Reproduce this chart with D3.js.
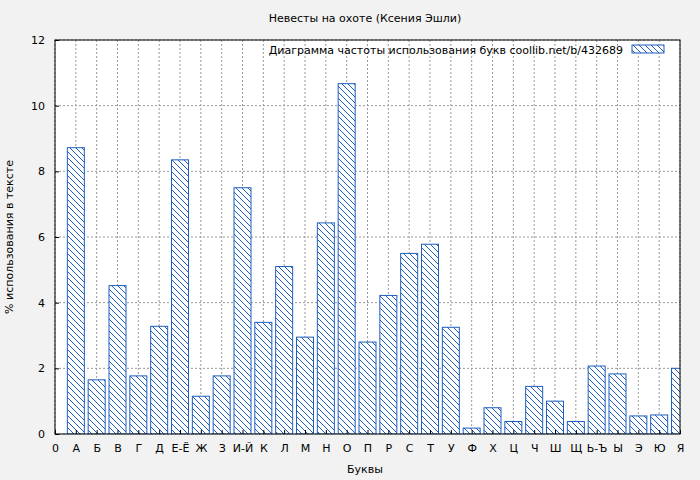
<!DOCTYPE html><html><head><meta charset="utf-8"><script src="https://cdn.jsdelivr.net/npm/d3@7"></script>
<style>body{margin:0;background:#f2f2f2}text{font-family:"DejaVu Sans",sans-serif;font-size:11px;fill:#000}</style></head><body><svg id="c" width="700" height="480"></svg><script>
const letters=["А","Б","В","Г","Д","Е-Ё","Ж","З","И-Й","К","Л","М","Н","О","П","Р","С","Т","У","Ф","Х","Ц","Ч","Ш","Щ","Ь-Ъ","Ы","Э","Ю","Я"];
const values=[8.72,1.65,4.52,1.77,3.28,8.35,1.15,1.77,7.5,3.4,5.1,2.95,6.43,10.67,2.8,4.22,5.5,5.78,3.25,0.18,0.8,0.38,1.45,1.0,0.38,2.07,1.83,0.55,0.58,2.0];
const tickLabels=["0"].concat(letters);
const yTicks=[0,2,4,6,8,10,12];
const svg=d3.select("#c");
const L=55,R=680,T=40,B=434;
const x=d3.scaleLinear().domain([0,30]).range([L,R]);
const y=d3.scaleLinear().domain([0,12]).range([B,T]);
const defs=svg.append("defs");
const p=defs.append("pattern").attr("id","h").attr("patternUnits","userSpaceOnUse").attr("width",6).attr("height",6);
p.append("rect").attr("width",6).attr("height",6).attr("fill","#fff");
p.append("path").attr("d","M-1,-1L7,7M-1,5L1,7M5,-1L7,1").attr("stroke","#1f5fbf").attr("stroke-width",1);
defs.append("clipPath").attr("id","cl").append("rect").attr("x",L).attr("y",T).attr("width",R-L).attr("height",B-T);
svg.append("rect").attr("x",L).attr("y",T).attr("width",R-L).attr("height",B-T).attr("fill","#fff");
const g=svg.append("g");
d3.range(0,31).forEach(i=>g.append("line").attr("x1",x(i)).attr("x2",x(i)).attr("y1",T).attr("y2",B).attr("stroke","#999").attr("stroke-dasharray","2,2"));
yTicks.forEach(v=>g.append("line").attr("x1",L).attr("x2",R).attr("y1",y(v)).attr("y2",y(v)).attr("stroke","#999").attr("stroke-dasharray","2,2"));
const bw=17;
svg.append("g").attr("clip-path","url(#cl)").selectAll("rect").data(values).join("rect")
 .attr("x",(d,i)=>x(i+1)-bw/2).attr("width",bw).attr("y",d=>y(d)).attr("height",d=>B-y(d))
 .attr("fill","url(#h)").attr("stroke","#1f5fbf").attr("stroke-width",1);
svg.append("rect").attr("x",L).attr("y",T).attr("width",R-L).attr("height",B-T).attr("fill","none").attr("stroke","#000");
svg.append("g").attr("transform",`translate(0,${B})`).call(d3.axisBottom(x).tickValues(d3.range(0,31)).tickFormat(i=>tickLabels[i]).tickSize(-4).tickPadding(10)).call(a=>{a.select(".domain").remove();a.selectAll("text").style("font-size","11px").style("font-family","DejaVu Sans");});
svg.append("g").attr("transform",`translate(${L},0)`).call(d3.axisLeft(y).tickValues(yTicks).tickSize(-4).tickPadding(10)).call(a=>{a.select(".domain").remove();a.selectAll("text").style("font-size","11px").style("font-family","DejaVu Sans");});
svg.append("text").attr("x",365).attr("y",22).attr("text-anchor","middle").text("Невесты на охоте (Ксения Эшли)");
svg.append("text").attr("x",365).attr("y",473).attr("text-anchor","middle").text("Буквы");
svg.append("text").attr("transform","translate(13,237) rotate(-90)").attr("text-anchor","middle").text("% использования в тексте");
svg.append("text").attr("x",623).attr("y",54).attr("text-anchor","end").text("Диаграмма частоты использования букв  coollib.net/b/432689");
svg.append("rect").attr("x",632).attr("y",45).attr("width",32).attr("height",8).attr("fill","url(#h)").attr("stroke","#1f5fbf");
</script></body></html>
